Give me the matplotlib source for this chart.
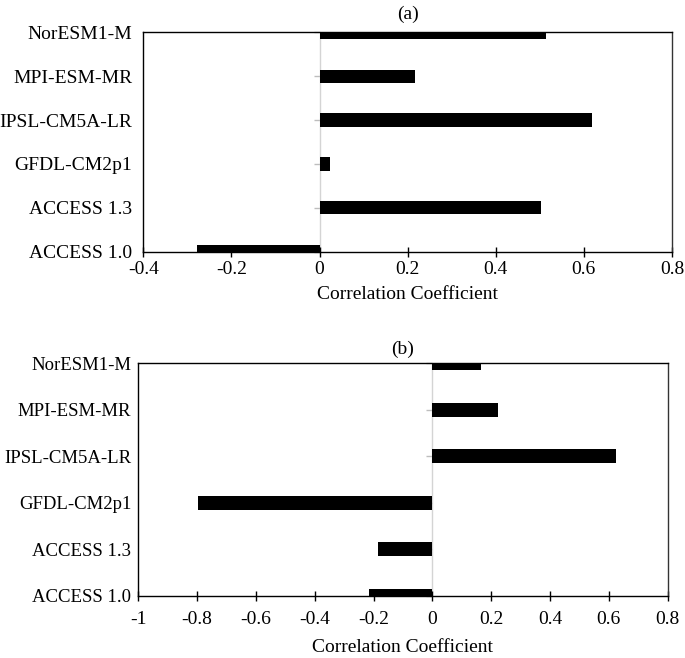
'''correlation coefficients of CMIP5 models, panels (a) and (b)'''

import matplotlib
matplotlib.use('Agg')
import matplotlib.pyplot as plt
import matplotlib.lines as mlines

plt.rcParams['font.family'] = ['Liberation Serif', 'DejaVu Serif']
plt.rcParams['font.size'] = 14

models = ['ACCESS 1.0', 'ACCESS 1.3', 'GFDL-CM2p1', 'IPSL-CM5A-LR',
          'MPI-ESM-MR', 'NorESM1-M']
corr_a = [-0.279, 0.502, 0.023, 0.618, 0.217, 0.515]
corr_b = [-0.215, -0.186, -0.797, 0.625, 0.223, 0.164]
ticks_a = [-0.4, -0.2, 0, 0.2, 0.4, 0.6, 0.8]
ticks_b = [-1, -0.8, -0.6, -0.4, -0.2, 0, 0.2, 0.4, 0.6, 0.8]
tick_labels_a = ['-0.4', '-0.2', '0', '0.2', '0.4', '0.6', '0.8']
tick_labels_b = ['-1', '-0.8', '-0.6', '-0.4', '-0.2', '0', '0.2', '0.4',
                 '0.6', '0.8']


def panel(ax, values, ticks, labels, title, ypad, ysize, xpad, title_pad,
          label_pad):
    ypos = list(range(len(models)))
    ax.axvline(0, color='#d4d4d4', lw=1.0, zorder=1)
    ax.plot([0] * len(ypos), ypos, ls='none', marker=mlines.TICKLEFT,
            ms=4, mec='#bdbdbd', mew=1.0, zorder=1, clip_on=False)
    ax.barh(ypos, values, height=0.3, color='black', zorder=2)
    ax.set_xlim(ticks[0], ticks[-1])
    ax.set_ylim(0, len(models) - 1)
    ax.set_xticks(ticks)
    ax.set_xticklabels(labels)
    ax.set_yticks(ypos)
    ax.set_yticklabels(models, fontsize=ysize)
    ax.tick_params(axis='y', length=0, pad=ypad)
    ax.tick_params(axis='x', direction='inout', length=7, width=1, pad=xpad)
    for s in ['left', 'top', 'right', 'bottom']:
        ax.spines[s].set_linewidth(1.0)
    ax.spines['right'].set_color('#333333')
    ax.set_title(title, fontsize=14, pad=title_pad)
    ax.set_xlabel('Correlation Coefficient', labelpad=label_pad)


fig = plt.figure(figsize=(6.85, 6.58), dpi=100)
ax1 = fig.add_axes([0.2092, 0.6175, 0.7718, 0.3334])
ax2 = fig.add_axes([0.2019, 0.0947, 0.7728, 0.3532])
panel(ax1, corr_a, ticks_a, tick_labels_a, '(a)', 8, 14, 3, 9.5, 6)
panel(ax2, corr_b, ticks_b, tick_labels_b, '(b)', 5, 13.5, 7.5, 7, 8)

fig.savefig('out.png', dpi=100)
